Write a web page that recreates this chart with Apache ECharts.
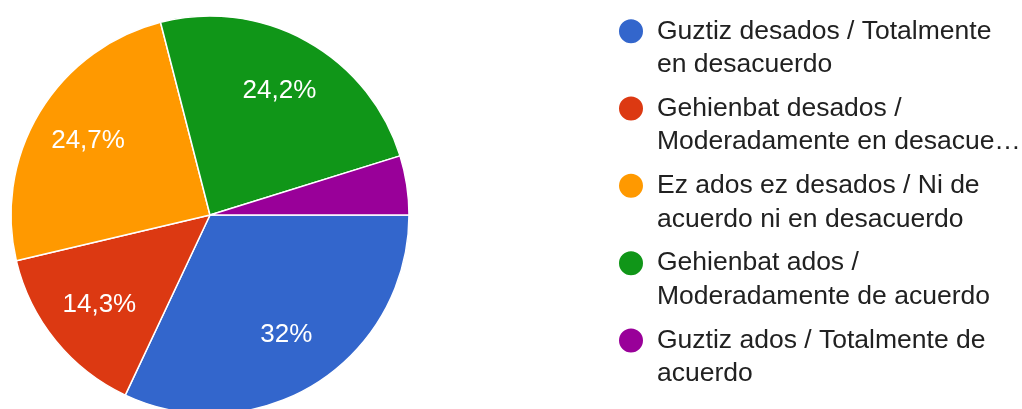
<!DOCTYPE html>
<html>
<head>
<meta charset="utf-8">
<script src="https://cdn.jsdelivr.net/npm/echarts@6/dist/echarts.min.js"></script>
<style>
  html, body { margin: 0; padding: 0; background: #fff; }
  #chart { width: 1022px; height: 409px; }
</style>
</head>
<body>
<div id="chart"></div>
<script>
// answers (legend text as shown, wrapped)
var categories = [
  'Guztiz desados / Totalmente\nen desacuerdo',
  'Gehienbat desados /\nModeradamente en desacue…',
  'Ez ados ez desados / Ni de\nacuerdo ni en desacuerdo',
  'Gehienbat ados /\nModeradamente de acuerdo',
  'Guztiz ados / Totalmente de\nacuerdo'
]
var percents = [32, 14.3, 24.7, 24.2, 4.8]
var labelTexts = ['32%', '14,3%', '24,7%', '24,2%', '']
var colors = ['#3366cc', '#dc3912', '#ff9900', '#109618', '#990099']

var pieCenter = [210, 215]
var pieRadius = 199
var lineH = 33.5

var chart = echarts.init(document.getElementById('chart'))

var seriesData = categories.map(function (name, i) {
  return {
    name: name,
    value: percents[i],
    label: { show: labelTexts[i] !== '', formatter: labelTexts[i] }
  }
})

var option = {
  color: colors,
  animation: false,
  legend: {
    orient: 'vertical',
    left: 617,
    top: -19,
    height: 600,
    padding: 0,
    icon: 'circle',
    itemWidth: 26,
    itemHeight: 26,
    itemGap: 77.3 - 3 * lineH,
    // empty first line so the dot sits beside the first text line
    formatter: function (name) {
      return '\n' + name
    },
    textStyle: {
      fontFamily: '"Liberation Sans", Arial, sans-serif',
      fontSize: 26.5,
      lineHeight: lineH,
      color: '#212121',
      padding: [0, 0, 0, 8]
    },
    data: categories
  },
  series: [{
    type: 'pie',
    center: pieCenter,
    radius: pieRadius,
    startAngle: 0,
    clockwise: true,
    avoidLabelOverlap: false,
    itemStyle: { borderColor: '#fff', borderWidth: 1.5 },
    label: {
      position: 'inside',
      color: '#fff',
      fontFamily: '"Liberation Sans", Arial, sans-serif',
      fontSize: 26
    },
    labelLine: { show: false },
    // push the inside labels outward, like the original
    labelLayout: function (params) {
      var r = params.labelRect
      var cx = r.x + r.width / 2
      var cy = r.y + r.height / 2
      return {
        dx: (cx - pieCenter[0]) * 0.39,
        dy: (cy - pieCenter[1]) * 0.39
      }
    },
    data: seriesData
  }]
}

chart.setOption(option)
</script>
</body>
</html>
